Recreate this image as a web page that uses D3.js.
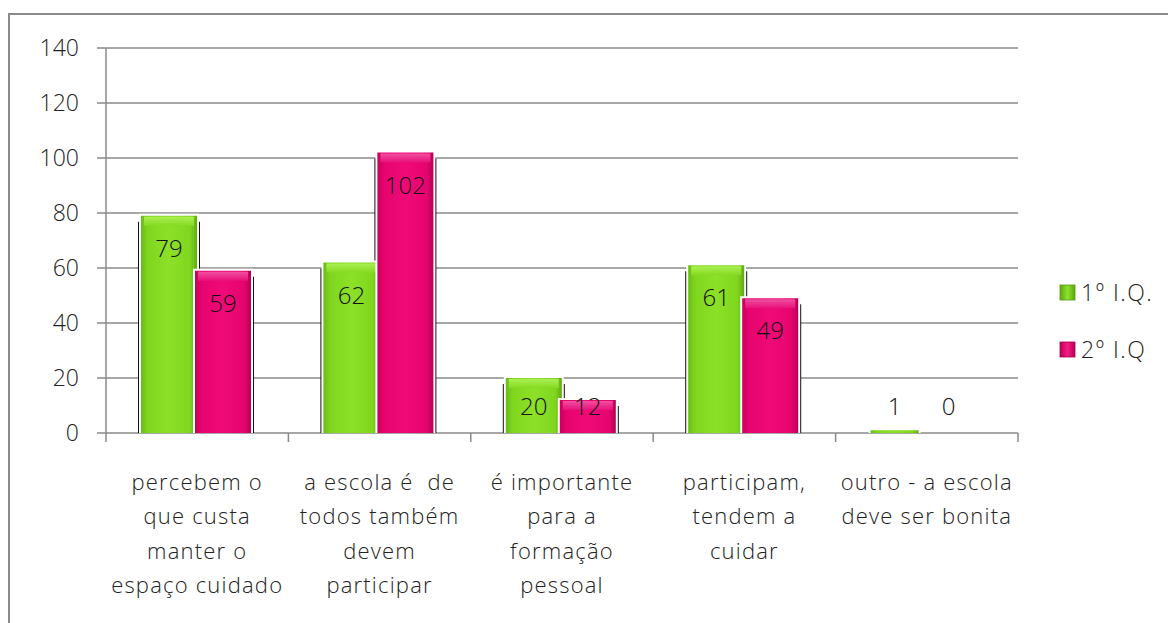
<!DOCTYPE html>
<html>
<head>
<meta charset="utf-8">
<script src="https://cdn.jsdelivr.net/npm/d3@7"></script>
<style>
body { margin: 0; background: #fff; }
text { font-family: "Open Sans", "Noto Sans", sans-serif; font-weight: 300; }
</style>
</head>
<body>
<svg id="chart" width="1168" height="623"></svg>
<script>
var svg = d3.select('#chart');

// data
var categories = [
    ['percebem o', 'que custa', 'manter o', 'espaço cuidado'],
    ['a escola é  de', 'todos também', 'devem', 'participar'],
    ['é importante', 'para a', 'formação', 'pessoal'],
    ['participam,', 'tendem a', 'cuidar'],
    ['outro - a escola', 'deve ser bonita']
];
var seriesNames = ['1º I.Q.', '2º I.Q'];
var serie1 = [79, 62, 20, 61, 1];
var serie2 = [59, 102, 12, 49, 0];
var yTicks = [0, 20, 40, 60, 80, 100, 120, 140];

var plot = {l: 106, r: 1018, t: 48, b: 433};

var x = d3.scaleBand().domain(d3.range(categories.length)).range([plot.l, plot.r]);
var y = d3.scaleLinear().domain([0, 140]).range([plot.b, plot.t]);

var barW = 56;
var offsets = [35, 89];
var series = [serie1, serie2];

// outer border
svg.append('path')
    .attr('d', 'M9,640 V14 H1180')
    .attr('fill', 'none')
    .attr('stroke', '#8a8a8a')
    .attr('stroke-width', 2);

// gradients
var defs = svg.append('defs');
function hGrad(id, stops) {
    var g = defs.append('linearGradient').attr('id', id)
        .attr('x1', 0).attr('x2', 1).attr('y1', 0).attr('y2', 0);
    stops.forEach(function(s) {
        g.append('stop').attr('offset', s[0]).attr('stop-color', s[1]);
    });
}
function vGrad(id, stops) {
    var g = defs.append('linearGradient').attr('id', id)
        .attr('x1', 0).attr('x2', 0).attr('y1', 0).attr('y2', 1);
    stops.forEach(function(s) {
        g.append('stop').attr('offset', s[0]).attr('stop-color', s[1]);
    });
}
hGrad('g0', [[0, '#66bc14'], [0.12, '#80d61e'], [0.5, '#8ce028'], [0.88, '#80d61e'], [1, '#5eac10']]);
hGrad('g1', [[0, '#c8005a'], [0.12, '#e6046e'], [0.5, '#f00a78'], [0.88, '#e6046e'], [1, '#b80052']]);
vGrad('c0', [[0, '#aaf052'], [1, '#86da22']]);
vGrad('c1', [[0, '#f050a0'], [1, '#e8107a']]);
hGrad('l0', [[0, '#5aa80e'], [0.5, '#90e030'], [1, '#5aa80e']]);
hGrad('l1', [[0, '#b80052'], [0.5, '#f41c84'], [1, '#b80052']]);

// gridlines
var grid = svg.append('g');
grid.selectAll('line')
    .data(yTicks)
    .enter().append('line')
    .attr('x1', plot.l - 9)
    .attr('x2', plot.r)
    .attr('y1', function(d) { return y(d); })
    .attr('y2', function(d) { return y(d); })
    .attr('stroke', '#8a8a8a')
    .attr('stroke-width', 1.5);

// y labels
svg.append('g').selectAll('text')
    .data(yTicks)
    .enter().append('text')
    .attr('x', 79)
    .attr('y', function(d) { return y(d); })
    .attr('dy', '0.35em')
    .attr('text-anchor', 'end')
    .attr('font-size', 23)
    .attr('fill', '#222')
    .text(function(d) { return d; });

// y axis line
svg.append('line')
    .attr('x1', plot.l).attr('x2', plot.l)
    .attr('y1', plot.t).attr('y2', plot.b)
    .attr('stroke', '#8a8a8a').attr('stroke-width', 1.5);

// x ticks
var xt = d3.range(categories.length + 1).map(function(i) {
    return plot.l + i * x.bandwidth();
});
svg.append('g').selectAll('line')
    .data(xt)
    .enter().append('line')
    .attr('x1', function(d) { return d; })
    .attr('x2', function(d) { return d; })
    .attr('y1', plot.b)
    .attr('y2', plot.b + 9)
    .attr('stroke', '#8a8a8a')
    .attr('stroke-width', 1.5);

// bar records
var bars = [];
series.forEach(function(s, si) {
    s.forEach(function(v, ci) {
        bars.push({s: si, c: ci, v: v, x: x(ci) + offsets[si], top: y(v)});
    });
});

var barG = svg.append('g');
// shadows first
barG.selectAll('rect.shadow')
    .data(bars.filter(function(d) { return d.v > 0; }))
    .enter().append('rect')
    .attr('class', 'shadow')
    .attr('x', function(d) { return d.x - 3; })
    .attr('y', function(d) { return d.top + 6; })
    .attr('width', barW + 6)
    .attr('height', function(d) { return Math.max(0, plot.b - d.top - 6); })
    .attr('fill', '#111');

// bars with glow + cap
bars.filter(function(d) { return d.v > 0; }).forEach(function(d) {
    var h = plot.b - d.top;
    var w = d.v < 3 ? 48 : barW;
    barG.append('rect')
        .attr('x', d.x - 2).attr('y', d.top - 2)
        .attr('width', w + 4).attr('height', h + 2)
        .attr('fill', '#fff');
    barG.append('rect')
        .attr('x', d.x).attr('y', d.top)
        .attr('width', w).attr('height', h)
        .attr('fill', 'url(#g' + d.s + ')');
    if (h > 12) {
        barG.append('rect')
            .attr('x', d.x + 3).attr('y', d.top + 1)
            .attr('width', w - 6).attr('height', 9)
            .attr('fill', 'url(#c' + d.s + ')');
    }
});

// value labels
svg.append('g').selectAll('text')
    .data(bars)
    .enter().append('text')
    .attr('x', function(d) { return d.x + (d.v < 3 ? 24 : barW / 2); })
    .attr('y', function(d) { return Math.min(d.top + 41, 415); })
    .attr('text-anchor', 'middle')
    .attr('font-size', 24)
    .attr('fill', '#111')
    .text(function(d) { return d.v; });

// category labels
var catG = svg.append('g');
categories.forEach(function(lines, ci) {
    var t = catG.append('text')
        .attr('text-anchor', 'middle')
        .attr('font-size', 22)
        .attr('letter-spacing', 1.2)
        .attr('fill', '#222');
    lines.forEach(function(ln, li) {
        t.append('tspan')
            .attr('x', x(ci) + x.bandwidth() / 2)
            .attr('y', 482 + li * 34.5)
            .attr('dy', '0.35em')
            .attr('xml:space', 'preserve')
            .text(ln);
    });
});

// legend
var leg = svg.append('g');
seriesNames.forEach(function(n, i) {
    var ly = 292 + i * 57;
    leg.append('rect')
        .attr('x', 1060).attr('y', ly - 7)
        .attr('width', 15).attr('height', 15)
        .attr('fill', 'url(#l' + i + ')')
        .attr('stroke', i == 0 ? '#5a9a10' : '#a8004c')
        .attr('stroke-width', 0.8);
    leg.append('text')
        .attr('x', 1081).attr('y', ly + 1)
        .attr('dy', '0.35em')
        .attr('font-size', 23)
        .attr('letter-spacing', 1.5)
        .attr('fill', '#222')
        .text(n);
});
</script>
</body>
</html>
